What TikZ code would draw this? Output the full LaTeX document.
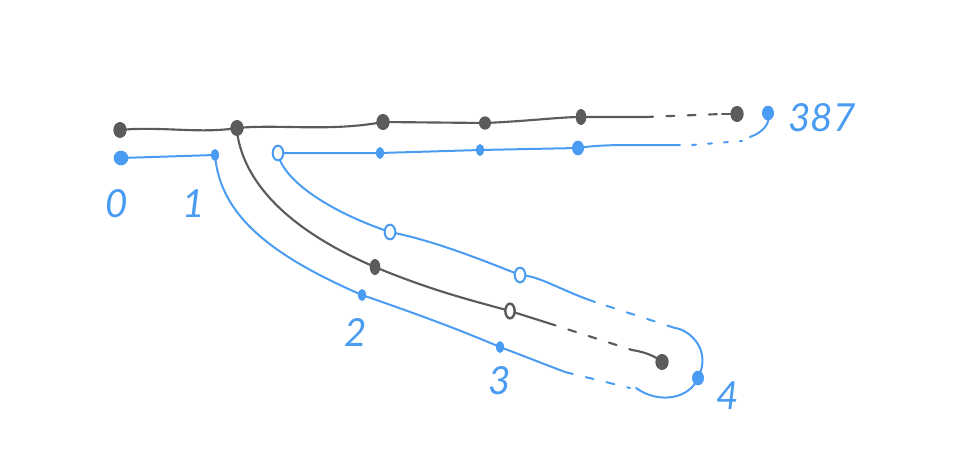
\documentclass[tikz,border=0pt]{standalone}
\usepackage{fontspec}
\newfontfamily\hand{Lato}
\definecolor{ink}{HTML}{5B5B5B}
\definecolor{pen}{HTML}{4A9CF2}
\tikzset{
  gline/.style={draw=ink, line width=1.6pt, line cap=round, line join=round},
  bline/.style={draw=pen, line width=1.5pt, line cap=round, line join=round},
  gdash/.style={gline, dash pattern=on 6pt off 10pt},
  bdash/.style={bline, dash pattern=on 6pt off 10pt},
  gdot/.style={ellipse, fill=ink, inner sep=0pt, minimum width=10pt, minimum height=12pt},
  gring/.style={ellipse, draw=ink, fill=white, line width=1.8pt, inner sep=0pt, minimum width=7pt, minimum height=11pt},
  bdot/.style={ellipse, fill=pen, inner sep=0pt, minimum width=9pt, minimum height=11pt},
  bsmall/.style={ellipse, fill=pen, inner sep=0pt, minimum width=6pt, minimum height=9pt},
  bring/.style={ellipse, draw=pen, line width=1.5pt, fill=white, inner sep=0pt, minimum width=8pt, minimum height=11pt},
  lab/.style={text=pen, font=\hand\itshape\fontsize{29}{29}\selectfont, inner sep=0pt}
}
\usetikzlibrary{shapes.geometric}
\begin{document}
\begin{tikzpicture}[x=0.75pt,y=-0.75pt]
\useasboundingbox (0,0) rectangle (970,460);
% gray coordinates
\coordinate (g1) at (237,128);
\coordinate (gt) at (645,117);
\coordinate (gd) at (722,114);
\coordinate (gbe) at (548,323);
\coordinate (gbd) at (632,350);
% blue coordinates
\coordinate (bt) at (680,145);
\coordinate (btd) at (742,141);
\coordinate (bl) at (565,372);
\coordinate (bld) at (630,388);
\coordinate (bu) at (675,328);
\coordinate (bud) at (595,302);
\coordinate (hk) at (750,137);
% gray path
\draw[gline] (120,130) .. controls (160,126) and (200,134) .. (g1)
  .. controls (280,124) and (330,132) .. (383,122)
  -- (485,123) .. controls (530,121) and (560,117) .. (581,117) -- (gt);
\draw[gdash] (gt) -- (gd);
\draw[gline] (gd) -- (737,114);
\draw[gline] (237,132) .. controls (245,190) and (300,235) .. (375,267)
  .. controls (430,290) and (470,300) .. (510,311) -- (gbe);
\draw[gdash] (gbe) -- (gbd);
\draw[gline] (gbd) .. controls (645,352) and (655,356) .. (662,362);
% blue path
\draw[bline] (121,158) -- (215,155) .. controls (220,215) and (270,255) .. (362,295)
  .. controls (420,315) and (460,330) .. (500,347) -- (bl);
\draw[bdash] (bl) -- (bld);
\draw[bline] (636,388) .. controls (660,405) and (690,398) .. (698,378)
  .. controls (712,350) and (690,330) .. (bu);
\draw[bdash] (bu) -- (bud);
\draw[bline] (bud) .. controls (560,290) and (540,276) .. (520,275)
  .. controls (470,255) and (430,240) .. (390,232)
  .. controls (330,212) and (282,180) .. (278,153)
  -- (380,153) -- (480,150) -- (578,148) .. controls (610,143) and (650,146) .. (bt);
\draw[bline, dash pattern=on 3pt off 9pt] (692,145) -- (btd);
\draw[bline] (hk) .. controls (768,130) and (770,120) .. (768,113);
% dots
\node[gdot] (n0) at (120,130) {};
\node[gdot] (n1) at (237,128) {};
\node[gdot] (n2) at (383,122) {};
\node[gdot, minimum width=9pt, minimum height=10pt] (n3) at (485,123) {};
\node[gdot, minimum width=8pt, minimum height=12pt] (n4) at (581,117) {};
\node[gdot] (n5) at (737,114) {};
\node[gdot, minimum width=8pt, minimum height=12pt] (m1) at (375,267) {};
\node[gring] (m2) at (510,311) {};
\node[gdot] (m3) at (662,362) {};
\node[bdot, minimum width=11pt] (p0) at (121,158) {};
\node[bsmall] (p1) at (215,155) {};
\node[bring] (r1) at (278,153) {};
\node[bsmall] (p2) at (380,153) {};
\node[bsmall] (p3) at (480,150) {};
\node[bdot] (p4) at (578,148) {};
\node[bdot] (p5) at (768,113) {};
\node[bsmall] (q1) at (362,295) {};
\node[bsmall] (q2) at (500,347) {};
\node[bdot] (q3) at (698,378) {};
\node[bring] (r2) at (390,232) {};
\node[bring] (r3) at (520,275) {};
% labels
\node[lab] (l0) at (117,204) {0};
\node[lab] (l1) at (194,204) {1};
\node[lab] (l2) at (356,332) {2};
\node[lab] (l3) at (500,381) {3};
\node[lab] (l4) at (728,396) {4};
\node[lab, anchor=west] (l387) at (788,118) {387};
\end{tikzpicture}
\end{document}
